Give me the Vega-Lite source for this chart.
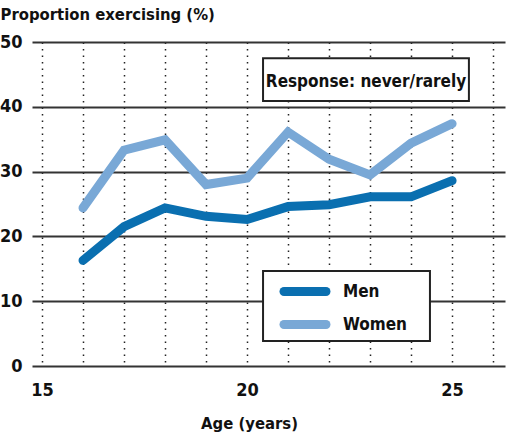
{
  "$schema": "https://vega.github.io/schema/vega-lite/v6.json",
  "width": 473,
  "height": 324,
  "autosize": {"type": "none"},
  "padding": {"left": 32, "top": 42, "right": 2, "bottom": 71},
  "background": "white",
  "config": {
    "view": {"stroke": null},
    "font": "DejaVu Sans Condensed, Liberation Sans, sans-serif"
  },
  "datasets": {
    "series": [
      {"age": 16, "sex": "Men", "pct": 16.3},
      {"age": 17, "sex": "Men", "pct": 21.5},
      {"age": 18, "sex": "Men", "pct": 24.4},
      {"age": 19, "sex": "Men", "pct": 23.1},
      {"age": 20, "sex": "Men", "pct": 22.6},
      {"age": 21, "sex": "Men", "pct": 24.6},
      {"age": 22, "sex": "Men", "pct": 24.9},
      {"age": 23, "sex": "Men", "pct": 26.1},
      {"age": 24, "sex": "Men", "pct": 26.1},
      {"age": 25, "sex": "Men", "pct": 28.6},
      {"age": 16, "sex": "Women", "pct": 24.4},
      {"age": 17, "sex": "Women", "pct": 33.3},
      {"age": 18, "sex": "Women", "pct": 34.9},
      {"age": 19, "sex": "Women", "pct": 28.0},
      {"age": 20, "sex": "Women", "pct": 29.0},
      {"age": 21, "sex": "Women", "pct": 36.1},
      {"age": 22, "sex": "Women", "pct": 31.9},
      {"age": 23, "sex": "Women", "pct": 29.5},
      {"age": 24, "sex": "Women", "pct": 34.4},
      {"age": 25, "sex": "Women", "pct": 37.4}
    ],
    "boxes": [
      {"name": "response", "x1": 20.39, "x2": 25.41, "y1": 47.5, "y2": 40.9},
      {"name": "legend", "x1": 20.39, "x2": 24.46, "y1": 14.66, "y2": 3.86}
    ],
    "notes": [
      {"label": "Response: never/rarely", "x": 22.9, "y": 43.05}
    ]
  },
  "layer": [
    {
      "data": {"name": "series"},
      "mark": {"type": "line", "strokeWidth": 9, "strokeCap": "round", "strokeJoin": "miter"},
      "encoding": {
        "x": {
          "field": "age", "type": "quantitative",
          "scale": {"domain": [14.756, 26.29], "nice": false, "zero": false},
          "axis": {
            "values": [15, 16, 17, 18, 19, 20, 21, 22, 23, 24, 25, 26],
            "labelExpr": "datum.value % 5 === 0 ? datum.label : ''",
            "grid": true, "gridDash": [1.5, 5], "gridColor": "#222", "gridWidth": 1.5,
            "domain": false, "ticks": false,
            "labelFont": "DejaVu Sans Condensed, Liberation Sans, sans-serif", "labelFontWeight": "bold", "labelFontSize": 18,
            "labelColor": "#111", "labelPadding": 15, "labelBaseline": "top",
            "title": "Age (years)",
            "titleFont": "DejaVu Sans Condensed, Liberation Sans, sans-serif", "titleFontWeight": "bold", "titleFontSize": 16.5,
            "titleColor": "#111", "titleX": 217, "titleY": 62, "titleBaseline": "alphabetic", "titleAlign": "center"
          }
        },
        "y": {
          "field": "pct", "type": "quantitative",
          "scale": {"domain": [0, 50], "nice": false},
          "axis": {
            "values": [0, 10, 20, 30, 40, 50],
            "grid": true, "gridColor": "#333", "gridWidth": 2,
            "domain": false, "ticks": false,
            "labelFont": "DejaVu Sans Condensed, Liberation Sans, sans-serif", "labelFontWeight": "bold", "labelFontSize": 18,
            "labelColor": "#111", "labelPadding": 10,
            "title": "Proportion exercising (%)",
            "titleFont": "DejaVu Sans Condensed, Liberation Sans, sans-serif", "titleFontWeight": "bold", "titleFontSize": 16.5,
            "titleColor": "#111", "titleAngle": 0, "titleX": -32, "titleY": -23,
            "titleAlign": "left", "titleBaseline": "alphabetic"
          }
        },
        "color": {
          "field": "sex", "type": "nominal",
          "scale": {"domain": ["Men", "Women"], "range": ["#0a6fb0", "#79a8d6"]},
          "legend": {
            "title": null, "orient": "none", "legendX": 231, "legendY": 227,
            "padding": 8,
            "symbolType": "M-0.15,0H4.05", "symbolSize": 400, "symbolStrokeWidth": 9,
            "labelFont": "DejaVu Sans Condensed, Liberation Sans, sans-serif", "labelFontWeight": "bold", "labelFontSize": 17,
            "labelColor": "#111", "labelOffset": 43, "rowPadding": -10,
            "encode": {
              "symbols": {"update": {"strokeCap": {"value": "round"}}}
            }
          }
        }
      }
    },
    {
      "data": {"name": "boxes"},
      "mark": {"type": "rect", "fill": "white", "stroke": "#222", "strokeWidth": 2},
      "encoding": {
        "x": {"field": "x1", "type": "quantitative"},
        "x2": {"field": "x2"},
        "y": {"field": "y1", "type": "quantitative"},
        "y2": {"field": "y2"}
      }
    },
    {
      "data": {"name": "notes"},
      "mark": {"type": "text", "font": "DejaVu Sans Condensed, Liberation Sans, sans-serif", "fontWeight": "bold", "fontSize": 17, "fill": "#111", "align": "center", "baseline": "alphabetic"},
      "encoding": {
        "text": {"field": "label"},
        "x": {"field": "x", "type": "quantitative"},
        "y": {"field": "y", "type": "quantitative"}
      }
    }
  ]
}
